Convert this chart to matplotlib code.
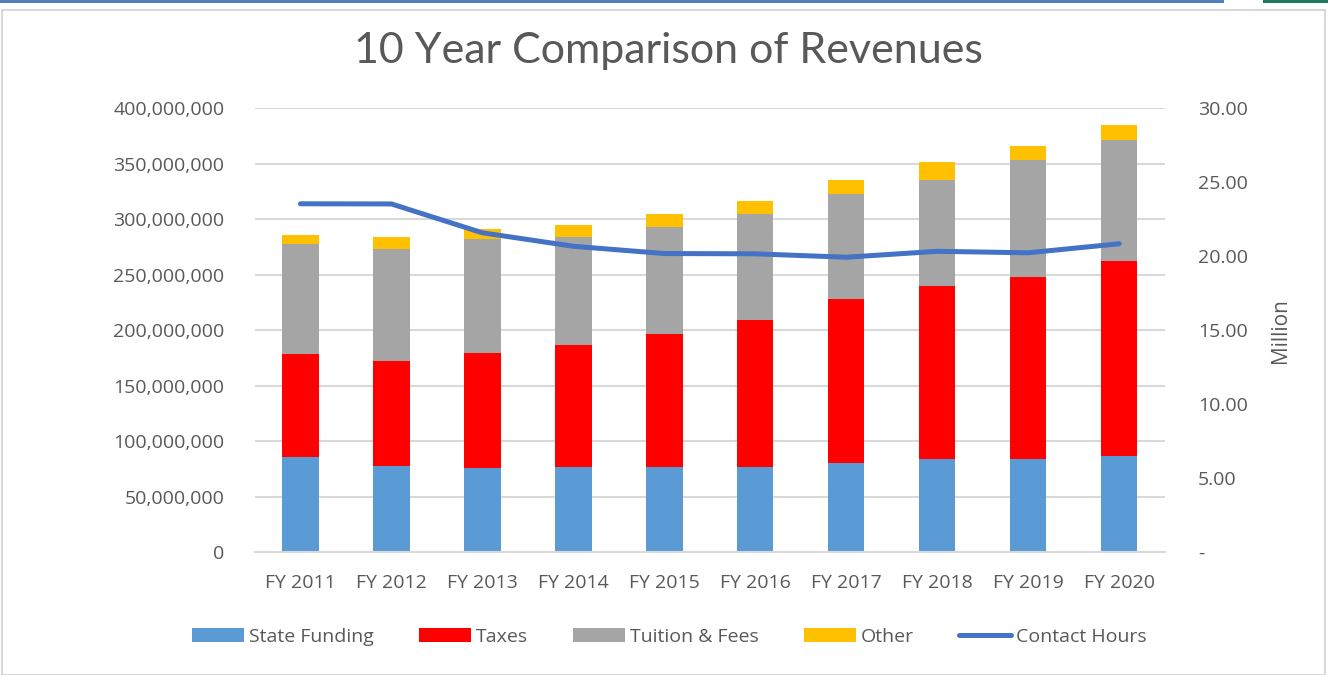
import matplotlib.pyplot as plt
import numpy as np
from matplotlib.ticker import FuncFormatter
from matplotlib.patches import Rectangle

years = ["FY 2011", "FY 2012", "FY 2013", "FY 2014", "FY 2015",
         "FY 2016", "FY 2017", "FY 2018", "FY 2019", "FY 2020"]

# revenues in millions of dollars
state_funding = [85.6, 77.7, 75.9, 76.8, 76.8, 76.8, 80.5, 83.8, 83.8, 87.0]
taxes = [93.3, 94.6, 103.9, 110.2, 119.9, 132.5, 147.7, 155.8, 163.6, 174.8]
tuition_fees = [98.6, 100.7, 101.8, 96.4, 96.4, 95.5, 94.0, 95.8, 105.4, 109.0]
other = [8.1, 10.4, 9.0, 10.8, 11.0, 11.1, 12.9, 15.6, 13.0, 13.9]

# contact hours, millions (right axis)
contact_hours = [23.53, 23.52, 21.57, 20.66, 20.17, 20.15, 19.92, 20.32, 20.22, 20.83]

TEXT = "#595959"
GRID = "#d9d9d9"
plt.rcParams["font.family"] = ["Open Sans", "DejaVu Sans"]

fig = plt.figure(figsize=(13.28, 6.75), dpi=100)
ax = fig.add_axes([0.192, 0.182, 0.685, 0.658])
ax2 = ax.twinx()

x = np.arange(len(years))
m = 1e6
s = np.array(state_funding) * m
t = np.array(taxes) * m
u = np.array(tuition_fees) * m
o = np.array(other) * m

w = 0.4
ax.bar(x, s, w, color="#5B9BD5", label="State Funding", zorder=2)
ax.bar(x, t, w, bottom=s, color="#FF0000", label="Taxes", zorder=2)
ax.bar(x, u, w, bottom=s + t, color="#A5A5A5", label="Tuition & Fees", zorder=2)
ax.bar(x, o, w, bottom=s + t + u, color="#FFC000", label="Other", zorder=2)

ax2.plot(x, contact_hours, color="#4472C4", lw=3.6, solid_capstyle="round",
         solid_joinstyle="round", label="Contact Hours")

ax.set_xlim(-0.5, len(years) - 0.5)
ax.set_ylim(0, 400e6)
ax.set_yticks(np.arange(0, 400e6 + 1, 50e6))
ax.yaxis.set_major_formatter(FuncFormatter(lambda v, p: f"{v:,.0f}"))
ax.grid(axis="y", color=GRID, lw=1.5, zorder=0)
ax.set_axisbelow(True)
ax.set_xticks(x)
ax.set_xticklabels(years)

ax2.set_ylim(0, 30)
ax2.set_yticks(np.arange(0, 31, 5))
ax2.yaxis.set_major_formatter(FuncFormatter(lambda v, p: "-" if v == 0 else f"{v:.2f}"))
ax2.set_ylabel("Million", color=TEXT, fontsize=15, labelpad=16)

for a in (ax, ax2):
    for sp in a.spines.values():
        sp.set_visible(False)
    a.tick_params(length=0, colors=TEXT, labelsize=14)
ax.spines["bottom"].set_visible(True)
ax.spines["bottom"].set_color(GRID)
ax.spines["bottom"].set_linewidth(1.5)
ax.tick_params(axis="x", pad=16)
ax.tick_params(axis="y", pad=22)
ax2.tick_params(axis="y", pad=24)

fig.text(0.503, 0.925, "10 Year Comparison of Revenues", ha="center", va="center",
         fontsize=31, color=TEXT, family=["Lato", "DejaVu Sans"])

handles, labels = ax.get_legend_handles_labels()
h2, l2 = ax2.get_legend_handles_labels()
leg = fig.legend(handles + h2, labels + l2, loc="center", ncol=5,
                 bbox_to_anchor=(0.504, 0.057), frameon=False, fontsize=14,
                 handlelength=2.7, handleheight=0.75, handletextpad=0.25,
                 columnspacing=2.3, labelcolor=TEXT)

# chart frame and header strip
fig.patches.append(Rectangle((0.0015, 0.0), 0.996, 0.985, transform=fig.transFigure,
                             fill=False, edgecolor="#d0d0d0", lw=1.2))
fig.patches.append(Rectangle((0, 0.995), 0.922, 0.005, transform=fig.transFigure,
                             color="#4F81BD", lw=0))
fig.patches.append(Rectangle((0.951, 0.995), 0.049, 0.005, transform=fig.transFigure,
                             color="#1E7A5A", lw=0))

fig.savefig("out.png", dpi=100)
